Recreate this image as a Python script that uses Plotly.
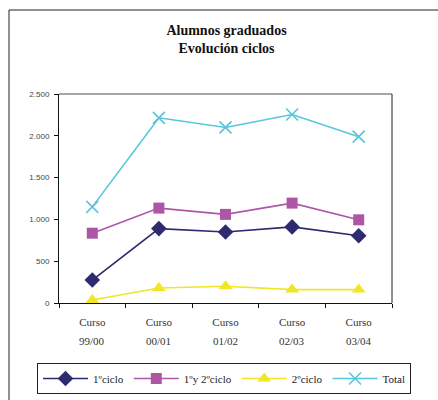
import plotly.graph_objects as go

cursos = ["99/00", "00/01", "01/02", "02/03", "03/04"]
tick_top = ["Curso"] * 5
primer_ciclo = [275, 890, 850, 910, 805]
primer_y_segundo = [835, 1135, 1060, 1195, 995]
segundo_ciclo = [35, 180, 200, 160, 160]
total = [1150, 2215, 2100, 2255, 1990]
y_ticks = [0, 500, 1000, 1500, 2000, 2500]

W, H = 438, 400
L, R, T, B = 59, 392, 94, 303


def px(x):
    return (x - L) / (R - L)


def py(y):
    return (B - y) / (B - T)


serif = "Liberation Serif, Times New Roman, serif"
sans = "Liberation Sans, Arial, sans-serif"

fig = go.Figure()
series = [
    ("1ºciclo", primer_ciclo, "#2E2A6F", "diamond", 12),
    ("1ºy 2ºciclo", primer_y_segundo, "#AD56A6", "square", 11),
    ("2ºciclo", segundo_ciclo, "#F0E624", "triangle-up", 12),
    ("Total", total, "#57C6DB", "x-thin", 12),
]
for name, vals, col, sym, sz in series:
    fig.add_trace(go.Scatter(
        x=cursos, y=vals, name=name, mode="lines+markers",
        line=dict(color=col, width=1.6),
        marker=dict(symbol=sym, size=sz, color=col,
                    line=dict(color=col, width=1.6 if sym == "x-thin" else 0)),
    ))

fig.update_layout(
    width=W, height=H,
    margin=dict(l=L, r=W - R, t=T, b=H - B, autoexpand=False),
    paper_bgcolor="white", plot_bgcolor="white",
    separators=",.",
    title=dict(text="Alumnos graduados<br>Evolución ciclos",
               font=dict(family=serif, size=14, color="#111", weight="bold"),
               x=px((L + R) / 2 + 1), xref="paper", xanchor="center",
               y=1 - 35 / H, yref="container", yanchor="top"),
    xaxis=dict(type="category", categoryarray=cursos, range=[-0.5, 4.5],
               tickmode="array", tickvals=cursos, ticktext=tick_top,
               tickson="boundaries", ticks="outside", ticklen=4,
               tickcolor="#111", showline=True, linecolor="#111", linewidth=1,
               showgrid=False, zeroline=False, ticklabelstandoff=9,
               tickfont=dict(family=serif, size=11, color="#333")),
    yaxis=dict(range=[0, 2500], tickmode="array", tickvals=y_ticks,
               separatethousands=True, tickformat=",d",
               ticks="outside", ticklen=4, tickcolor="#111",
               showline=True, linecolor="#111", linewidth=1,
               showgrid=False, zeroline=False, ticklabelstandoff=3,
               tickfont=dict(family=sans, size=8, color="#444")),
    showlegend=True,
    legend=dict(orientation="h", x=px(37), xref="paper",
                y=py(363), yref="paper", xanchor="left",
                yanchor="top", bordercolor="#222", borderwidth=1,
                bgcolor="white", itemwidth=45, tracegroupgap=0,
                font=dict(family=serif, size=11, color="#222")),
)

# second line of the category labels (course years)
for c in cursos:
    fig.add_annotation(x=c, xref="x", y=py(341), yref="paper", text=c,
                       showarrow=False, xanchor="center", yanchor="middle",
                       font=dict(family=serif, size=11, color="#333"))

# plot-area frame: gray top, dark right
fig.add_shape(type="line", xref="paper", yref="paper", x0=0, x1=1, y0=1, y1=1,
              line=dict(color="#888", width=1.5))
fig.add_shape(type="line", xref="paper", yref="paper", x0=1, x1=1, y0=0, y1=1,
              line=dict(color="#222", width=1))
# outer chart frame (left and top)
fig.add_shape(type="line", xref="paper", yref="paper", x0=px(9), x1=px(W + 5),
              y0=py(10), y1=py(10), line=dict(color="#222", width=1))
fig.add_shape(type="line", xref="paper", yref="paper", x0=px(9), x1=px(9),
              y0=py(10), y1=py(H + 5), line=dict(color="#222", width=1))

fig.write_html("out.html", config={"displayModeBar": False},
               post_script="document.body.style.margin='0';")
